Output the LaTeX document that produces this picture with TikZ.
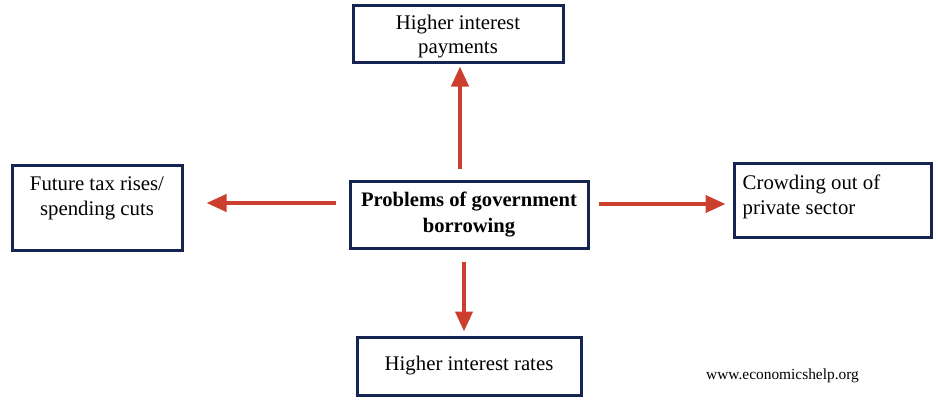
\documentclass[tikz,border=0pt]{standalone}
\usepackage{fontspec}
\setmainfont{Liberation Serif}
\usetikzlibrary{arrows.meta}
\definecolor{boxblue}{RGB}{22,36,82}
\definecolor{arrred}{RGB}{204,62,46}
\tikzset{
  box/.style={draw=boxblue, line width=3pt, rectangle, inner sep=0pt},
  lbl/.style={font=\fontsize{20.8}{24.8}\selectfont, inner sep=0pt, align=center},
  arr/.style={draw=arrred, line width=4pt, -{Triangle[length=20pt,width=17pt]}}
}
\begin{document}
\begin{tikzpicture}[x=1pt,y=-1pt]
\useasboundingbox (0,0) rectangle (938,407);
% boxes
\node[box, minimum width=210pt, minimum height=57pt] (top) at (458,33.5) {};
\node[box, minimum width=170pt, minimum height=85pt] (lft) at (97,207.5) {};
\node[box, minimum width=238pt, minimum height=67pt] (ctr) at (469,214.5) {};
\node[box, minimum width=197pt, minimum height=74pt] (rgt) at (832.5,200) {};
\node[box, minimum width=224pt, minimum height=58pt] (bot) at (469,366) {};
% texts
\node[lbl] (toptxt) at ([yshift=-3pt]top.center) {Higher interest\\payments};
\node[lbl, anchor=north] (lfttxt) at ([yshift=-13pt]lft.north) {Future tax rises/\\spending cuts};
\node[lbl, font=\fontsize{20.6}{26.5}\selectfont\bfseries] (ctrtxt) at (ctr.center) {Problems of government\\borrowing};
\node[lbl, align=left, anchor=north west] (rgttxt) at ([xshift=10pt,yshift=-13pt]rgt.north west) {Crowding out of\\private sector};
\node[lbl] (bottxt) at (bot.center) {Higher interest rates};
\node[font=\fontsize{15.4}{17}\selectfont, inner sep=0pt, anchor=west] (url) at (706,376) {www.economicshelp.org};
% arrows
\draw[arr, shorten <=11pt, shorten >=3pt] ([xshift=-9pt]ctr.north) -- ([xshift=2pt]top.south);
\draw[arr, shorten <=13pt, shorten >=23pt] ([yshift=11.5pt]ctr.west) -- ([yshift=4.5pt]lft.east);
\draw[arr, shorten <=9pt, shorten >=7pt] ([yshift=10.5pt]ctr.east) -- ([yshift=-4pt]rgt.west);
\draw[arr, shorten <=12pt, shorten >=4pt] ([xshift=-5pt]ctr.south) -- ([xshift=-5pt]bot.north);
\end{tikzpicture}
\end{document}
